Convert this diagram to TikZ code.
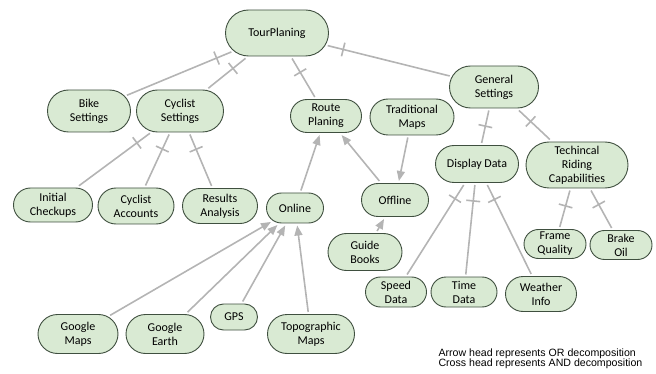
\documentclass[tikz,border=0pt]{standalone}
\usepackage{fontspec}
\setmainfont{Carlito}
\newfontfamily\legendfont{Liberation Sans}
\usetikzlibrary{shapes.misc,arrows.meta,decorations.markings}
\definecolor{goalfill}{HTML}{D9EAD3}
\definecolor{goalline}{HTML}{3F4F3F}
\definecolor{linkgray}{HTML}{B4B4B4}

\begin{document}
\begin{tikzpicture}[x=1pt,y=-1pt,
	goal/.style={rounded rectangle, draw=goalline, fill=goalfill, line width=0.9pt, align=center, font=\fontsize{12}{14}\selectfont, inner sep=1pt, outer sep=2.5pt},
	andlink/.style={draw=linkgray, line width=1.6pt, postaction={decorate},
		decoration={markings, mark=at position -16pt with {\draw[linkgray, line width=1.6pt] (0pt,-7pt) -- (0pt,7pt);}}},
	orlink/.style={draw=linkgray, line width=1.6pt, -{Triangle[length=10pt,width=8pt]}}]
		\useasboundingbox (0,0) rectangle (656,374);
		
		% goals
		\node [goal, minimum width=105pt, minimum height=46pt] (tp) at (277,33) {TourPlaning};
		\node [goal, minimum width=85pt, minimum height=42pt] (bs) at (89,111) {Bike\\Settings};
		\node [goal, minimum width=89pt, minimum height=42pt] (cs) at (180,111) {Cyclist\\Settings};
		\node [goal, minimum width=73pt, minimum height=33pt] (rp) at (326,116) {Route\\Planing};
		\node [goal, minimum width=86pt, minimum height=36pt] (tm) at (412,117) {Traditional\\Maps};
		\node [goal, minimum width=91pt, minimum height=42pt] (gs) at (494,87) {General\\Settings};
		\node [goal, minimum width=85pt, minimum height=37pt] (dd) at (477,164) {Display Data};
		\node [goal, minimum width=104pt, minimum height=46pt] (tr) at (577,165) {Techincal\\Riding\\Capabilities};
		\node [goal, minimum width=81pt, minimum height=34pt] (ic) at (53,205) {Initial\\Checkups};
		\node [goal, minimum width=78pt, minimum height=36pt] (ca) at (136,206) {Cyclist\\Accounts};
		\node [goal, minimum width=77pt, minimum height=35pt] (ra) at (220,206) {Results\\Analysis};
		\node [goal, minimum width=59pt, minimum height=30pt] (on) at (295,208) {Online};
		\node [goal, minimum width=69pt, minimum height=33pt] (of) at (395,200) {Offline};
		\node [goal, minimum width=76pt, minimum height=37pt] (gb) at (365,252) {Guide\\Books};
		\node [goal, minimum width=82pt, minimum height=39pt] (gm) at (78,334) {Google\\Maps};
		\node [goal, minimum width=80pt, minimum height=39pt] (ge) at (165,334) {Google\\Earth};
		\node [goal, minimum width=49pt, minimum height=26pt] (gp) at (234,317) {GPS};
		\node [goal, minimum width=89pt, minimum height=39pt] (tg) at (311,334) {Topographic\\Maps};
		\node [goal, minimum width=63pt, minimum height=30pt] (sd) at (396,292) {Speed\\Data};
		\node [goal, minimum width=68pt, minimum height=30pt] (td) at (464,292) {Time\\Data};
		\node [goal, minimum width=73pt, minimum height=35pt] (wi) at (541,294) {Weather\\Info};
		\node [goal, minimum width=64pt, minimum height=29pt] (fq) at (555,244) {Frame\\Quality};
		\node [goal, minimum width=64pt, minimum height=29pt] (bo) at (621,245) {Brake\\Oil};
		
		% AND decomposition
		\draw [andlink] (bs) -- (tp);
		\draw [andlink] (cs) -- (tp);
		\draw [andlink] (rp) -- (tp);
		\draw [andlink] (gs) -- (tp);
		\draw [andlink] (ic) -- (cs);
		\draw [andlink] (ca) -- (cs);
		\draw [andlink] (ra) -- (cs);
		\draw [andlink] (dd) -- (gs);
		\draw [andlink] (tr) -- (gs);
		\draw [andlink] (sd) -- (dd);
		\draw [andlink] (td) -- (dd);
		\draw [andlink] (wi) -- (dd);
		\draw [andlink] (fq) -- (tr);
		\draw [andlink] (bo) -- (tr);
		
		% OR decomposition
		\draw [orlink] (on) -- (rp);
		\draw [orlink] (of) -- (rp);
		\draw [orlink] (tm) -- (of);
		\draw [orlink] (gb) -- (of);
		\draw [orlink] (gm) -- (on);
		\draw [orlink] (ge) -- (on);
		\draw [orlink] (gp) -- (on);
		\draw [orlink] (tg) -- (on);
		
		\node [anchor=west, align=left, font=\legendfont\fontsize{10.6}{10.5}\selectfont] (lg) at (435,359) {Arrow head represents OR decomposition\\Cross head represents AND decomposition};
\end{tikzpicture}
\end{document}
